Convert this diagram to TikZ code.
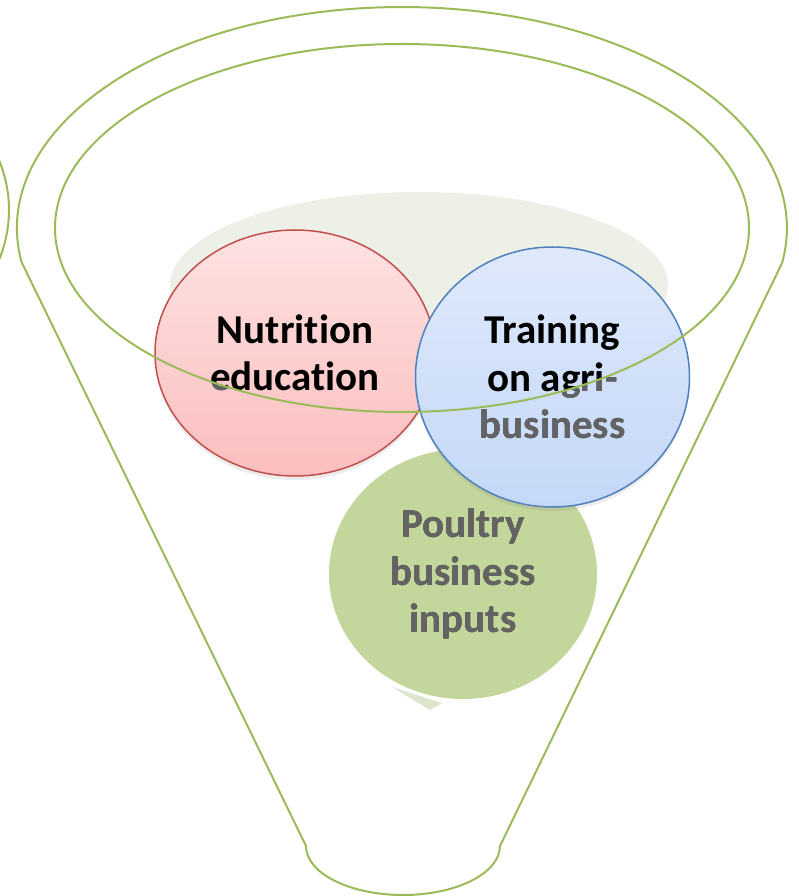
\documentclass[tikz,border=0pt]{standalone}
\usepackage{fontspec}
\setmainfont{Carlito}[Ligatures={NoCommon}]
\usetikzlibrary{shapes.geometric,shadows}
\definecolor{funnelgreen}{HTML}{9BBB59}
\definecolor{haze}{HTML}{EDF0E6}
\definecolor{sliver}{HTML}{DCE6CF}
\definecolor{redline}{HTML}{C0504D}
\definecolor{redtop}{RGB}{254,226,226}
\definecolor{redbot}{RGB}{251,190,190}
\definecolor{blueline}{HTML}{4F81BD}
\definecolor{bluetop}{RGB}{223,233,251}
\definecolor{bluebot}{RGB}{196,216,248}
\definecolor{greenfill}{HTML}{C3D69B}
\definecolor{textgray}{HTML}{636363}
\tikzset{%
  funnel/.style={draw=funnelgreen,line width=1pt},
  ball/.style={shape=ellipse,inner sep=0,align=center,font=\bfseries\fontsize{20.5}{23.75}\selectfont},
  softshadow/.style={drop shadow={shadow xshift=0pt,shadow yshift=-2pt,opacity=.15}},
  redball/.style={ball,draw=redline,line width=.75pt,top color=redtop,bottom color=redbot,
    minimum width=140pt,minimum height=123pt,softshadow},
  blueball/.style={ball,draw=blueline,line width=.75pt,top color=bluetop,bottom color=bluebot,
    minimum width=137pt,minimum height=130pt,softshadow},
  greenball/.style={ball,fill=greenfill,minimum width=134pt,minimum height=125pt}
}

\begin{document}
\begin{tikzpicture}[x=0.5pt,y=0.5pt]
  \useasboundingbox (0,0) rectangle (799,896);
  \clip (0,0) rectangle (799,896);
  % rim of the funnel next to this one
  \draw[funnel] (-376,686) ++(-15:385 and 221) arc[start angle=-15,end angle=15,x radius=385,y radius=221];
  % haze behind the balls
  \fill[haze] (419,611) ellipse [x radius=249,y radius=93];
  \fill[sliver] (392,209) -- (442,193) -- (430,186) -- cycle;
  \node[greenball] (poultry) at (463,322) {Poultry\\business\\inputs};
  \node[redball] (nutrition) at (295,543) {Nutrition\\education};
  \node[blueball] (training) at (552.5,519) {Training\\on agri-\\business};
  % text below the rim turns gray
  \begin{scope}[blend mode=lighten]
    \clip (185,491) rectangle (405,598) (470,446) rectangle (640,598) (380,251) rectangle (548,393);
    \fill[textgray,even odd rule] (0,0) rectangle (799,896) (402,668) ellipse [x radius=347,y radius=184];
  \end{scope}
  % funnel
  \draw[funnel] (402,668) ellipse [x radius=347,y radius=184];
  \draw[funnel] (21.6,633.8) arc[start angle=188.9,end angle=-9.1,x radius=385,y radius=221]
    -- (500,50) arc[start angle=0,end angle=-180,x radius=97,y radius=49] -- cycle;
\end{tikzpicture}
\end{document}
